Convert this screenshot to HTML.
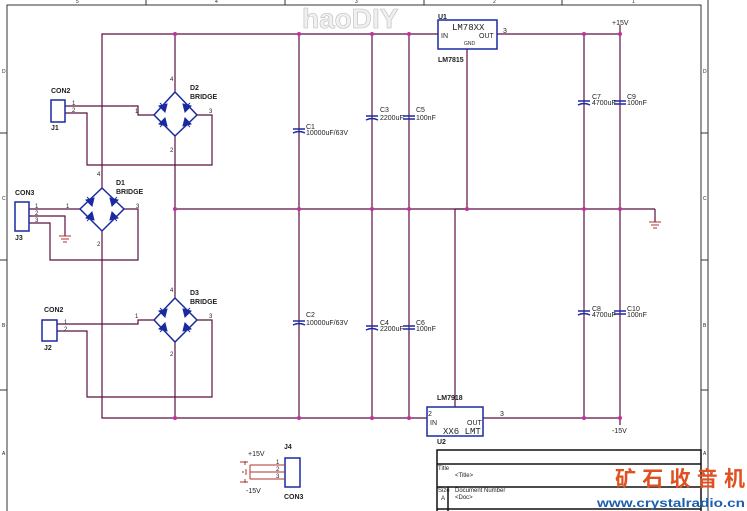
<!DOCTYPE html><html><head><style>body{margin:0;background:#fff}svg{display:block}text{font-family:"Liberation Sans",sans-serif;fill:#222}</style></head><body>
<svg width="747" height="511" viewBox="0 0 747 511" font-size="7">
<g stroke="#333" fill="none" stroke-width="1">
<rect x="7" y="5" width="694" height="510"/>
<line x1="708" y1="0" x2="708" y2="511"/>
<line x1="146" y1="0" x2="146" y2="5"/><line x1="285" y1="0" x2="285" y2="5"/><line x1="424" y1="0" x2="424" y2="5"/><line x1="562" y1="0" x2="562" y2="5"/>
<line x1="0" y1="133" x2="7" y2="133"/><line x1="0" y1="260" x2="7" y2="260"/><line x1="0" y1="390" x2="7" y2="390"/>
<line x1="701" y1="133" x2="708" y2="133"/><line x1="701" y1="260" x2="708" y2="260"/><line x1="701" y1="390" x2="708" y2="390"/>
</g>
<g font-size="5"><text x="76" y="3">5</text><text x="215" y="3">4</text><text x="355" y="3">3</text><text x="493" y="3">2</text><text x="632" y="3">1</text><text x="2" y="73">D</text><text x="2" y="200">C</text><text x="2" y="327">B</text><text x="2" y="455">A</text><text x="703" y="73">D</text><text x="703" y="200">C</text><text x="703" y="327">B</text><text x="703" y="455">A</text></g>
<g stroke="#5a1040" fill="none" stroke-width="1.2">
<polyline points="102,188 102,34 438,34"/><line x1="497" y1="34" x2="620" y2="34"/>
<polyline points="102,231 102,418 427,418"/><line x1="483" y1="418" x2="620" y2="418"/>
<line x1="175" y1="209" x2="655" y2="209"/><line x1="655" y1="209" x2="655" y2="222"/>
<line x1="175" y1="34" x2="175" y2="92"/><line x1="175" y1="136" x2="175" y2="298"/><line x1="175" y1="342" x2="175" y2="418"/>
<line x1="299" y1="34" x2="299" y2="418"/><line x1="372" y1="34" x2="372" y2="418"/><line x1="409" y1="34" x2="409" y2="418"/>
<line x1="467" y1="49" x2="467" y2="209"/><line x1="455" y1="209" x2="455" y2="407"/><line x1="455" y1="209" x2="467" y2="209"/>
<line x1="584" y1="34" x2="584" y2="418"/><line x1="620" y1="25" x2="620" y2="425"/>
<polyline points="65,106 138,106 138,115 154,115"/><polyline points="65,113 87,113 87,165 212,165 212,115 197,115"/>
<polyline points="57,324 138,324 138,320 154,320"/><polyline points="57,331 87,331 87,397 212,397 212,320 197,320"/>
<line x1="29" y1="209" x2="80" y2="209"/><polyline points="29,216 65,216 65,236"/><polyline points="29,223 50,223 50,260 138,260 138,209 124,209"/>
</g>
<g fill="#c030a0"><circle cx="175" cy="34" r="2"/><circle cx="299" cy="34" r="2"/><circle cx="372" cy="34" r="2"/><circle cx="409" cy="34" r="2"/><circle cx="584" cy="34" r="2"/><circle cx="620" cy="34" r="2"/>
<circle cx="175" cy="209" r="2"/><circle cx="299" cy="209" r="2"/><circle cx="372" cy="209" r="2"/><circle cx="409" cy="209" r="2"/><circle cx="467" cy="209" r="2"/><circle cx="584" cy="209" r="2"/><circle cx="620" cy="209" r="2"/>
<circle cx="175" cy="418" r="2"/><circle cx="299" cy="418" r="2"/><circle cx="372" cy="418" r="2"/><circle cx="409" cy="418" r="2"/><circle cx="584" cy="418" r="2"/><circle cx="620" cy="418" r="2"/></g>
<g stroke="#1a2aa0" fill="none" stroke-width="1.5">
<path d="M175,92 L197,115 L175,136 L154,115Z"/><path d="M175,298 L197,320 L175,342 L154,320Z"/><path d="M102,188 L124,209 L102,231 L80,209Z"/>
<rect x="51" y="100" width="14" height="22"/><rect x="42" y="320" width="15" height="21"/><rect x="15" y="202" width="14" height="29"/><rect x="285" y="458" width="15" height="29"/>
<rect x="438" y="20" width="59" height="29"/><rect x="427" y="407" width="56" height="29"/>
<path d="M293,129h12M293,133q6,-3 12,0"/><path d="M293,321h12M293,325q6,-3 12,0"/><path d="M366,116h12M366,120q6,-3 12,0"/><path d="M366,326h12M366,330q6,-3 12,0"/>
<path d="M403,116h12M403,119h12"/><path d="M403,326h12M403,329h12"/><path d="M578,101h12M578,105q6,-3 12,0"/><path d="M578,311h12M578,315q6,-3 12,0"/><path d="M614,101h12M614,104h12"/><path d="M614,311h12M614,314h12"/>
</g>
<g fill="#1a2aa0" stroke="#1a2aa0" stroke-width="1">
<g id="br"><path d="M159,106l8,-2l-2,8z"/><path d="M160,103l6,6"/><path d="M183,104l8,2l-6,6z"/><path d="M184,109l6,-6"/><path d="M159,124l6,-6l2,8z"/><path d="M160,127l6,-6"/><path d="M191,124l-6,-6l-2,8z"/><path d="M190,127l-6,-6"/></g>
<use href="#br" transform="translate(0,205)"/><use href="#br" transform="translate(-73,94)"/></g>
<g stroke="#b03030" fill="none"><path d="M59,236h12M61,239h8M63,242h4"/><path d="M649,222h12M651,225h8M653,228h4"/><path d="M250,465h35M250,472h35M250,479h35M245,465v-4M245,479v4M240,462h8M240,482h8M250,465v14M246,469v6M243,471v2"/></g>
<g font-weight="bold"><text x="51" y="93">CON2</text><text x="51" y="130">J1</text><text x="15" y="195">CON3</text><text x="15" y="240">J3</text><text x="44" y="312">CON2</text><text x="44" y="350">J2</text>
<text x="190" y="90">D2</text><text x="190" y="99">BRIDGE</text><text x="116" y="185">D1</text><text x="116" y="194">BRIDGE</text><text x="190" y="295">D3</text><text x="190" y="304">BRIDGE</text>
<text x="438" y="19">U1</text><text x="438" y="62">LM7815</text><text x="437" y="400">LM7918</text><text x="437" y="444">U2</text><text x="284" y="449">J4</text><text x="284" y="499">CON3</text></g>
<text x="306" y="129">C1</text><text x="306" y="135">10000uF/63V</text><text x="306" y="317">C2</text><text x="306" y="325">10000uF/63V</text>
<text x="380" y="112">C3</text><text x="380" y="120">2200uF</text><text x="416" y="112">C5</text><text x="416" y="120">100nF</text>
<text x="380" y="325">C4</text><text x="380" y="331">2200uF</text><text x="416" y="325">C6</text><text x="416" y="331">100nF</text>
<text x="592" y="99">C7</text><text x="592" y="105">4700uF</text><text x="627" y="99">C9</text><text x="627" y="105">100nF</text>
<text x="592" y="311">C8</text><text x="592" y="317">4700uF</text><text x="627" y="311">C10</text><text x="627" y="317">100nF</text>
<text x="612" y="25">+15V</text><text x="612" y="433">-15V</text><text x="248" y="456">+15V</text><text x="246" y="493">-15V</text>
<text x="452" y="30" font-size="9" style="font-family:'Liberation Mono',monospace">LM78XX</text><text x="441" y="38">IN</text><text x="479" y="38">OUT</text><text x="464" y="45" font-size="5">GND</text>
<text x="430" y="425">IN</text><text x="467" y="425">OUT</text><text x="443" y="434" font-size="9" style="font-family:'Liberation Mono',monospace">XX6 LMT</text>
<text x="503" y="33">3</text><text x="428" y="416">2</text><text x="500" y="416">3</text>
<g font-size="6"><text x="72" y="105">1</text><text x="72" y="112">2</text><text x="35" y="208">1</text><text x="35" y="215">2</text><text x="35" y="222">3</text><text x="66" y="208">1</text><text x="135" y="113">1</text><text x="209" y="113">3</text><text x="170" y="81">4</text><text x="170" y="152">2</text><text x="136" y="208">3</text><text x="97" y="176">4</text><text x="97" y="246">2</text><text x="135" y="318">1</text><text x="209" y="318">3</text><text x="170" y="292">4</text><text x="170" y="356">2</text><text x="64" y="324">1</text><text x="64" y="331">2</text><text x="276" y="464">1</text><text x="276" y="471">2</text><text x="276" y="478">3</text></g>
<g stroke="#111" fill="none" stroke-width="1.5"><rect x="437" y="450" width="264" height="62"/><line x1="437" y1="464" x2="701" y2="464"/><line x1="437" y1="487" x2="701" y2="487"/><line x1="437" y1="509" x2="701" y2="509"/><line x1="448" y1="487" x2="448" y2="511"/></g>
<g font-size="6"><text x="438" y="470">Title</text><text x="455" y="477">&lt;Title&gt;</text><text x="438" y="492">Size</text><text x="441" y="500">A</text><text x="455" y="492">Document Number</text><text x="455" y="499">&lt;Doc&gt;</text></g>
<text x="302" y="28" font-size="28" font-weight="bold" style="fill:#f0f0f0" stroke="#bbb" stroke-width=".6">haoDIY</text>
<text x="615" y="486" font-size="21" font-weight="bold" textLength="130" lengthAdjust="spacing" style="font-family:'Noto Sans CJK SC',sans-serif;fill:#e05020">矿石收音机</text>
<text x="597" y="507" font-size="12" font-weight="bold" textLength="148" lengthAdjust="spacingAndGlyphs" style="fill:#1a5fb0">www.crystalradio.cn</text>
</svg></body></html>
